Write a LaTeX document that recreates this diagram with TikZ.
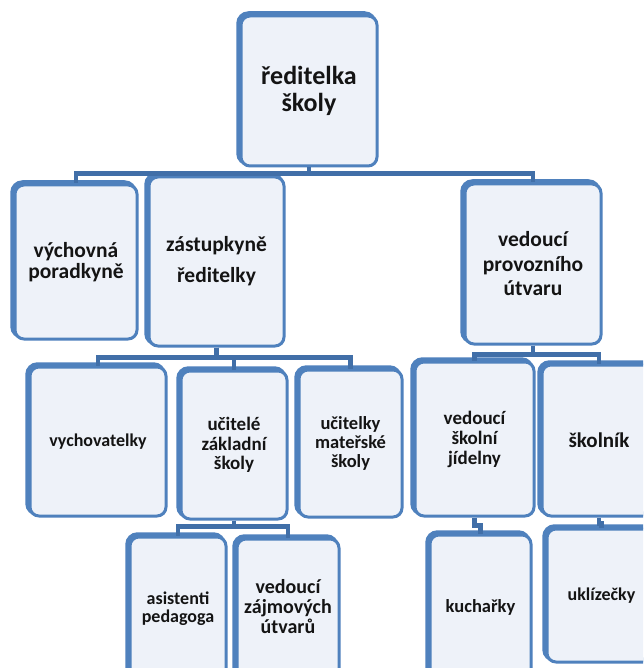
\documentclass[tikz,border=0pt]{standalone}
\usepackage{fontspec}
\setmainfont{Carlito}
\definecolor{bord}{HTML}{4F81BD}
\definecolor{conncol}{HTML}{416FA8}
\definecolor{fillc}{HTML}{EEF2F9}
\definecolor{txt}{HTML}{141414}
\newcommand\obox[7]{%
  \pgfmathsetmacro\bcx{(#2+#4)/2}%
  \pgfmathsetmacro\bcy{(#3+#5)/2}%
  \pgfmathsetmacro\bw{#4-#2}%
  \pgfmathsetmacro\bh{#5-#3}%
  \draw[backline] (#2-2.5,#3-2.5) rectangle (#4-2.5,#5-2.5);
  \node[orgbox, minimum width=\bw pt, minimum height=\bh pt, font={#6}] (#1) at (\bcx,\bcy) {#7};
}
\begin{document}
\begin{tikzpicture}[x=1pt,y=-1pt]
\tikzset{
  orgbox/.style={draw=bord, line width=3pt, fill=fillc, rounded corners=9pt, inner sep=0pt, align=center, text=txt},
  backline/.style={draw=bord, line width=4.5pt, rounded corners=10pt},
  link/.style={draw=conncol, line width=4.5pt},
}
\useasboundingbox (0,0) rectangle (643,668);
\clip (0,0) rectangle (643,668);
\fill[white] (0,0) rectangle (643,668);

\obox{top}{241}{16}{377}{166}{\fontsize{26}{27}\selectfont\bfseries}{ředitelka\\školy}
\obox{vp}{15}{185}{137}{339}{\fontsize{21.5}{21}\selectfont\bfseries}{výchovná\\poradkyně}
\obox{zr}{149}{177}{284}{346}{\fontsize{21.5}{31}\selectfont\bfseries}{zástupkyně\\ředitelky}
\obox{pu}{465}{184}{601}{344}{\fontsize{21.5}{24.5}\selectfont\bfseries}{vedoucí\\provozního\\útvaru}
\obox{vy}{30}{367}{166}{516}{\fontsize{18}{19}\selectfont\bfseries}{vychovatelky}
\obox{uz}{181}{371}{287}{519}{\fontsize{19}{19.5}\selectfont\bfseries}{učitelé\\základní\\školy}
\obox{um}{299}{370}{402}{517}{\fontsize{18.5}{19}\selectfont\bfseries}{učitelky\\mateřské\\školy}
\obox{jd}{415}{362}{534}{516}{\fontsize{19}{20}\selectfont\bfseries}{vedoucí\\školní\\jídelny}
\obox{sk}{542}{365}{656}{516}{\fontsize{21}{22}\selectfont\bfseries}{školník}
\obox{as}{130}{537}{226}{680}{\fontsize{18}{18.5}\selectfont\bfseries}{asistenti\\pedagoga}
\obox{zj}{237}{539}{339}{680}{\fontsize{20}{19.5}\selectfont\bfseries}{\raisebox{15pt}{\begin{tabular}{@{}c@{}}vedoucí\\zájmových\\útvarů\end{tabular}}}
\obox{ku}{430}{535}{531}{680}{\fontsize{18.5}{19}\selectfont\bfseries}{kuchařky}
\obox{uk}{547}{529}{656}{662}{\fontsize{18}{19}\selectfont\bfseries}{uklízečky}

\draw[link] (top.south) -- ++(0,6) -| (vp.north);
\draw[link] (top.south) -- ++(0,6) -| (zr.north);
\draw[link] (top.south) -- ++(0,6) -| (pu.north);
\draw[link] (zr.south) -- ++(0,10) -| (vy.north);
\draw[link] (zr.south) -- ++(0,10) -| (uz.north);
\draw[link] (zr.south) -- ++(0,10) -| (um.north);
\draw[link] (pu.south) -- ++(0,9) -| (jd.north);
\draw[link] (pu.south) -- ++(0,9) -| (sk.north);
\draw[link] (uz.south) -- ++(0,6) -| (as.north);
\draw[link] (uz.south) -- ++(0,6) -| (zj.north);
\draw[link] (jd.south) -- ++(0,8) -| (ku.north);
\draw[link] (sk.south) -- ++(0,6) -| (uk.north);
\end{tikzpicture}
\end{document}
